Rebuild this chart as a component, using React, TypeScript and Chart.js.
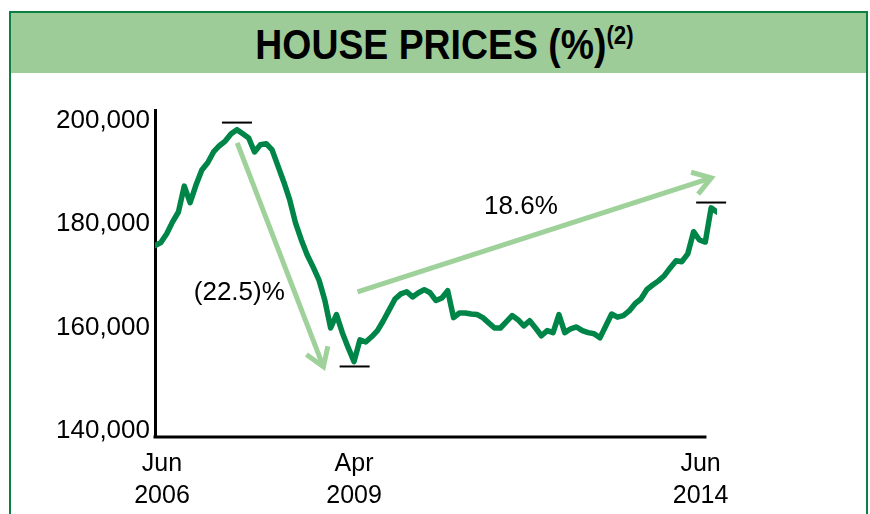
import React, { useEffect, useRef } from "react";
import { Chart, registerables } from "chart.js";

Chart.register(...registerables);

// Monthly house prices, Jun 2006 (index 0) to Jun 2014 (index 96)
const prices = [
  175800, 176400, 178100, 180400, 182300, 187300, 184100, 187500, 190400, 191800,
  193900, 195100, 196000, 197400, 198200, 197400, 196600, 193900, 195300, 195500,
  194300, 191200, 188100, 184700, 180200, 176900, 174000, 171700, 169200, 165300,
  159900, 162500, 159000, 156100, 153400, 157600, 157200, 158200, 159400, 161300,
  163400, 165500, 166500, 166900, 165900, 166700, 167300, 166700, 165200, 165700,
  167100, 161900, 162800, 162800, 162600, 162500, 161900, 160900, 159900, 159900,
  161100, 162300, 161500, 160300, 161300, 159900, 158400, 159400, 159000, 162500,
  159000, 159750, 160100, 159400, 159000, 158800, 158000, 160300, 162600, 162000,
  162300, 163200, 164600, 165500, 167300, 168200, 169000, 170000, 171500, 172900,
  172700, 174200, 178500, 176900, 176500, 183100, 182300,
];

const xTickValues = [1.2, 34, 93.2];
const xTickLabels = [
  ["Jun", "2006"],
  ["Apr", "2009"],
  ["Jun", "2014"],
];
const yTickValues = [140000, 160000, 180000, 200000];

const Y_MIN = 138850;
const Y_MAX = 202000;
const X_AXIS_END = 94.2;

const arrows = [
  { x1: 14.04, y1: 195660, x2: 28.77, y2: 152410 },
  { x1: 34.6, y1: 166890, x2: 95.03, y2: 188900 },
];
const markers = [
  { x: 14, y: 199570 },
  { x: 34.1, y: 152470 },
  { x: 95, y: 184130 },
];
const notes = [
  { text: "(22.5)%", x: 14.4, y: 166700 },
  { text: "18.6%", x: 62.5, y: 183300 },
];

const LINE_COLOR = "#008548";
const ARROW_COLOR = "#9fd19a";
const FONT = '"Liberation Sans", Arial, Helvetica, sans-serif';

const annotPlugin = {
  id: "annot",
  beforeDatasetsDraw(chart: any) {
    const { ctx, chartArea } = chart;
    const xs = chart.scales.x;
    const ys = chart.scales.y;
    ctx.save();
    // x axis line (shorter than data range)
    ctx.strokeStyle = "#000";
    ctx.lineWidth = 3;
    ctx.beginPath();
    ctx.moveTo(chartArea.left - 1.5, chartArea.bottom);
    ctx.lineTo(xs.getPixelForValue(X_AXIS_END), chartArea.bottom);
    ctx.stroke();
    // arrows
    ctx.strokeStyle = ARROW_COLOR;
    ctx.lineWidth = 5;
    ctx.lineCap = "butt";
    ctx.lineJoin = "miter";
    for (const a of arrows) {
      const px1 = xs.getPixelForValue(a.x1);
      const py1 = ys.getPixelForValue(a.y1);
      const px2 = xs.getPixelForValue(a.x2);
      const py2 = ys.getPixelForValue(a.y2);
      const ang = Math.atan2(py2 - py1, px2 - px1);
      const L = 21;
      const w = 0.58;
      ctx.beginPath();
      ctx.moveTo(px1, py1);
      ctx.lineTo(px2, py2);
      ctx.stroke();
      ctx.beginPath();
      ctx.moveTo(px2 - L * Math.cos(ang - w), py2 - L * Math.sin(ang - w));
      ctx.lineTo(px2, py2);
      ctx.lineTo(px2 - L * Math.cos(ang + w), py2 - L * Math.sin(ang + w));
      ctx.stroke();
    }
    ctx.restore();
  },
  afterDatasetsDraw(chart: any) {
    const { ctx } = chart;
    const xs = chart.scales.x;
    const ys = chart.scales.y;
    ctx.save();
    ctx.strokeStyle = "#000";
    ctx.lineWidth = 2;
    for (const m of markers) {
      const px = xs.getPixelForValue(m.x);
      const py = ys.getPixelForValue(m.y);
      ctx.beginPath();
      ctx.moveTo(px - 15, py);
      ctx.lineTo(px + 15, py);
      ctx.stroke();
    }
    ctx.fillStyle = "#000";
    ctx.font = `26px ${FONT}`;
    ctx.textAlign = "center";
    ctx.textBaseline = "middle";
    for (const n of notes) {
      ctx.fillText(n.text, xs.getPixelForValue(n.x), ys.getPixelForValue(n.y));
    }
    ctx.restore();
  },
};

export default function App() {
  const canvasRef = useRef<HTMLCanvasElement | null>(null);

  useEffect(() => {
    const canvas = canvasRef.current;
    if (!canvas) return;
    const chart = new Chart(canvas, {
      type: "line",
      data: {
        datasets: [
          {
            data: prices.map((v, i) => ({ x: i, y: v })),
            borderColor: LINE_COLOR,
            borderWidth: 5.5,
            pointRadius: 0,
            tension: 0,
            borderJoinStyle: "round",
            borderCapStyle: "round",
            fill: false,
          },
        ],
      },
      options: {
        responsive: false,
        animation: false,
        events: [],
        layout: { padding: { top: 110, right: 153, bottom: 0, left: 0 } },
        plugins: {
          legend: { display: false },
          title: { display: false },
          tooltip: { enabled: false },
        },
        scales: {
          x: {
            type: "linear",
            min: 0,
            max: prices.length - 1,
            grid: { display: false },
            border: { display: false },
            afterFit: (s: any) => {
              s.height = 77;
            },
            afterBuildTicks: (s: any) => {
              s.ticks = xTickValues.map((v) => ({ value: v }));
            },
            ticks: {
              autoSkip: false,
              maxRotation: 0,
              padding: 3,
              color: "#000",
              font: { family: FONT, size: 25, lineHeight: 1.28 },
              callback: (_v: any, i: number) => xTickLabels[i],
            },
          },
          y: {
            type: "linear",
            min: Y_MIN,
            max: Y_MAX,
            grid: { display: false },
            border: { display: true, color: "#000", width: 3 },
            afterFit: (s: any) => {
              s.width = 155;
            },
            afterBuildTicks: (s: any) => {
              s.ticks = yTickValues.map((v) => ({ value: v }));
            },
            ticks: {
              padding: -3,
              color: "#000",
              font: { family: FONT, size: 26 },
              callback: (v: any) => Number(v).toLocaleString("en-US"),
            },
          },
        },
      },
      plugins: [annotPlugin],
    } as any);
    return () => chart.destroy();
  }, []);

  return (
    <div
      style={{
        position: "fixed",
        left: 0,
        top: 0,
        width: 870,
        height: 514,
        overflow: "hidden",
        background: "#fff",
      }}
    >
      <div
        style={{
          position: "absolute",
          left: 9,
          top: 11,
          width: 855,
          height: 600,
          border: "2px solid #0c7f43",
        }}
      />
      <div
        style={{
          position: "absolute",
          left: 11,
          top: 13,
          width: 855,
          height: 60,
          background: "#9dcc98",
          display: "flex",
          alignItems: "center",
          justifyContent: "center",
        }}
      >
        <div
          style={{
            fontFamily: FONT,
            fontWeight: "bold",
            fontSize: 42,
            lineHeight: 1,
            whiteSpace: "nowrap",
            transform: "scaleX(0.89)",
            marginLeft: 12,
            marginTop: 4,
            color: "#000",
          }}
        >
          HOUSE PRICES (%)
          <span
            style={{
              fontSize: 25,
              position: "relative",
              top: -15,
            }}
          >
            (2)
          </span>
        </div>
      </div>
      <canvas
        ref={canvasRef}
        width={870}
        height={514}
        style={{ position: "absolute", left: 0, top: 0, width: 870, height: 514 }}
      />
    </div>
  );
}
